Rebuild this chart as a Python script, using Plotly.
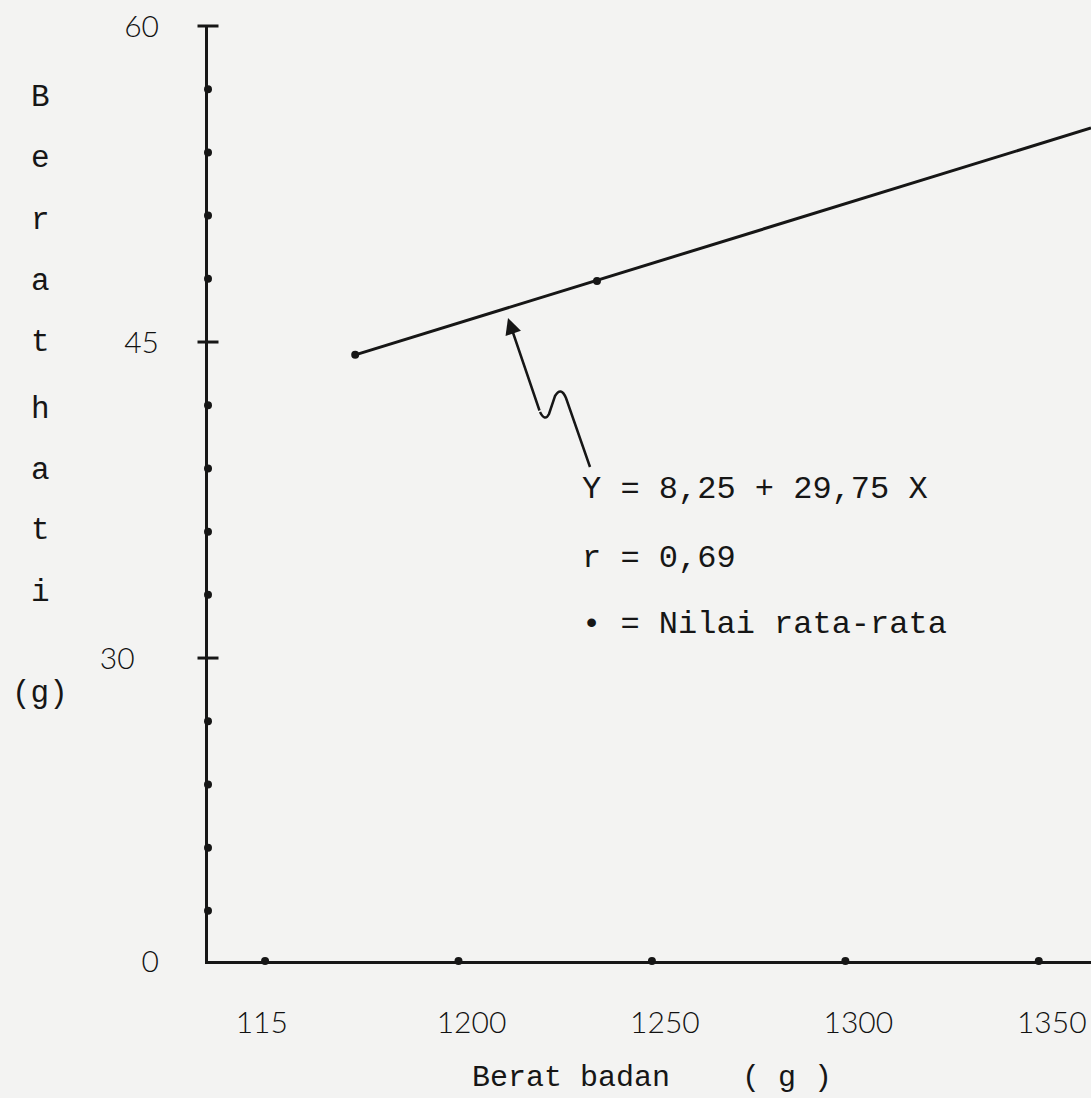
import plotly.graph_objects as go

# ---- data ----
x_tick_vals = [1150, 1200, 1250, 1300, 1350]
x_tick_text = ["115\u00a0\u00a0\u00a0\u00a0", "1200", "1250", "1300", "1350"]

y_bottom = 15.62          # axis bottom, labelled "0" (broken axis)
y_major_vals = [y_bottom, 30, 45, 60]
y_major_text = ["0", "30\u00a0\u00a0\u00a0", "45", "60"]
y_major_marks = [30, 45, 60]
y_minor_marks = [57, 54, 51, 48, 42, 39, 36, 33, 27, 24, 21, 18]

mean_x = [1173.3, 1235.8]      # Nilai rata-rata
mean_y = [44.39, 47.9]
reg_x = [1173.3, 1363.5]       # regression line
reg_y = [44.39, 55.16]

x_range = [1135.25, 1363.5]
y_range = [y_bottom, 60]

W, H = 1091, 1098
L, R, T, B = 208, 0, 26, 137

def px2x(px):
    return (px - L) / (W - L - R)

def px2y(py):
    return (H - B - py) / (H - B - T)

MONO = "Liberation Mono, Courier New, monospace"
SANS = "Lato, Noto Sans, sans-serif"
INK = "#161616"

fig = go.Figure()

# regression line
fig.add_trace(go.Scatter(x=reg_x, y=reg_y, mode="lines",
                         line=dict(color=INK, width=3), hoverinfo="skip"))
# mean points
fig.add_trace(go.Scatter(x=mean_x, y=mean_y, mode="markers",
                         marker=dict(color=INK, size=8), hoverinfo="skip"))
# axis decorations: dots and crossing dashes
fig.add_trace(go.Scatter(x=[x_range[0]] * len(y_minor_marks), y=y_minor_marks,
                         mode="markers", marker=dict(color=INK, size=8),
                         cliponaxis=False, hoverinfo="skip"))
fig.add_trace(go.Scatter(x=[x_range[0]] * len(y_major_marks), y=y_major_marks,
                         mode="markers",
                         marker=dict(symbol="line-ew", size=15,
                                     line=dict(color=INK, width=3)),
                         cliponaxis=False, hoverinfo="skip"))
fig.add_trace(go.Scatter(x=x_tick_vals, y=[y_bottom] * len(x_tick_vals),
                         mode="markers", marker=dict(color=INK, size=8),
                         cliponaxis=False, hoverinfo="skip"))

annotations = []
# legend / equation text
eq_lines = [("Y = 8,25 + 29,75 X", 490), ("r = 0,69", 558), ("\u2022 = Nilai rata-rata", 624)]
for txt, py in eq_lines:
    annotations.append(dict(text=txt, xref="paper", yref="paper",
                            x=px2x(580), y=px2y(py), xanchor="left", yanchor="middle",
                            showarrow=False, font=dict(family=MONO, size=32, color=INK)))

# vertical y-axis title letters
ylab = [("B", 97), ("e", 158), ("r", 220), ("a", 281), ("t", 342),
        ("h", 410), ("a", 470), ("t", 530), ("i", 592), ("(g)", 693)]
for txt, py in ylab:
    annotations.append(dict(text=txt, xref="paper", yref="paper",
                            x=px2x(40), y=px2y(py), xanchor="center", yanchor="middle",
                            showarrow=False, font=dict(family=MONO, size=31, color=INK)))

# x-axis title
annotations.append(dict(text="Berat badan    ( g )", xref="paper", yref="paper",
                        x=px2x(470), y=px2y(1078), xanchor="left", yanchor="middle",
                        showarrow=False, font=dict(family=MONO, size=30, color=INK)))

# arrow pointing to the line
tip = (508, 318)
tail = (540, 412)
annotations.append(dict(text="", xref="paper", yref="paper",
                        x=px2x(tip[0]), y=px2y(tip[1]),
                        ax=tail[0] - tip[0], ay=tail[1] - tip[1],
                        showarrow=True, arrowhead=2, arrowsize=1.3,
                        arrowwidth=2.5, arrowcolor=INK))

def P(px, py):
    return f"{px2x(px):.5f},{px2y(py):.5f}"

squiggle = (f"M {P(590,467)} L {P(566,398)} Q {P(561,386)} {P(555,396)} "
            f"L {P(549,414)} Q {P(545,422)} {P(540,412)}")

fig.update_layout(
    width=W, height=H,
    margin=dict(l=L, r=R, t=T, b=B),
    paper_bgcolor="#f3f3f2",
    plot_bgcolor="#f3f3f2",
    showlegend=False,
    annotations=annotations,
    shapes=[dict(type="path", path=squiggle, xref="paper", yref="paper",
                 line=dict(color=INK, width=2.5))],
    xaxis=dict(range=x_range, showgrid=False, zeroline=False,
               showline=True, linecolor=INK, linewidth=3,
               ticks="", tickvals=x_tick_vals, ticktext=x_tick_text,
               ticklabelstandoff=33, ticklabelshift=13,
               tickfont=dict(family=SANS, size=30, color="#111", weight=300)),
    yaxis=dict(range=y_range, showgrid=False, zeroline=False,
               showline=True, linecolor=INK, linewidth=3,
               ticks="", tickvals=y_major_vals, ticktext=y_major_text,
               ticklabelstandoff=40,
               tickfont=dict(family=SANS, size=30, color="#111", weight=300)),
)

fig.write_html("out.html",
               config={"displayModeBar": False},
               post_script="document.body.style.margin='0';document.body.style.overflow='hidden';")
